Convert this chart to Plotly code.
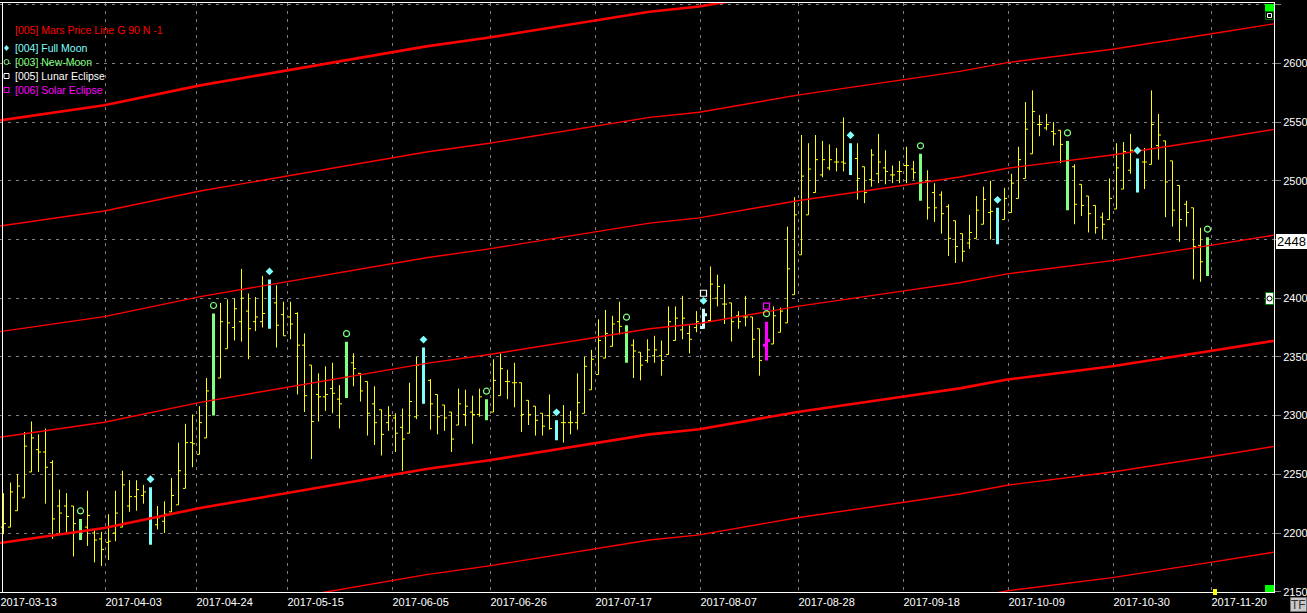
import plotly.graph_objects as go

# ---------------- data ----------------
tick_dates = ["2017-03-13", "2017-04-03", "2017-04-24", "2017-05-15", "2017-06-05",
              "2017-06-26", "2017-07-17", "2017-08-07", "2017-08-28", "2017-09-18",
              "2017-10-09", "2017-10-30", "2017-11-20"]
tick_bar = [0, 15, 28, 41, 56, 70, 85, 100, 114, 129, 144, 159, 173]

opens = [2205, 2205, 2219, 2230, 2252, 2271, 2269, 2260, 2223, 2223,
         2223, 2206, 2205, 2200, 2195, 2192, 2200, 2205, 2223, 2231,
         2232, 2233, 2207, 2210, 2218, 2224, 2238, 2277, 2267, 2281,
         2301, 2332, 2357, 2375, 2380, 2389, 2380, 2380, 2389, 2396,
         2386, 2384, 2387, 2360, 2343, 2318, 2316, 2323, 2314, 2316,
         2345, 2336, 2329, 2310, 2305, 2294, 2298, 2290, 2285, 2299,
         2311, 2330, 2318, 2309, 2303, 2292, 2301, 2303, 2301, 2304,
         2303, 2317, 2329, 2328, 2328, 2313, 2308, 2302, 2300, 2295,
         2294, 2294, 2294, 2302, 2322, 2335, 2349, 2359, 2380, 2374,
         2360, 2354, 2347, 2351, 2351, 2352, 2364, 2373, 2370, 2375,
         2375, 2381, 2400, 2395, 2396, 2385, 2384, 2384, 2374, 2360,
         2361, 2371, 2379, 2403, 2437, 2471, 2490, 2505, 2511, 2516,
         2516, 2522, 2519, 2512, 2501, 2506, 2511, 2505, 2508, 2513,
         2510, 2509, 2500, 2490, 2488, 2478, 2466, 2455, 2447, 2451,
         2463, 2473, 2473, 2467, 2473, 2485, 2502, 2523, 2548, 2545,
         2542, 2543, 2533, 2512, 2497, 2487, 2479, 2469, 2467, 2476,
         2493, 2509, 2516, 2516, 2514, 2530, 2534, 2517, 2496, 2480,
         2477, 2445, 2444]
highs = [2234, 2243, 2250, 2286, 2295, 2284, 2289, 2262, 2237, 2234,
         2223, 2212, 2236, 2203, 2201, 2216, 2236, 2253, 2245, 2245,
         2241, 2239, 2223, 2227, 2247, 2277, 2293, 2301, 2308, 2332,
         2387, 2396, 2399, 2400, 2425, 2404, 2401, 2419, 2416, 2411,
         2397, 2397, 2388, 2370, 2343, 2336, 2342, 2345, 2326, 2363,
         2353, 2336, 2329, 2325, 2305, 2308, 2302, 2306, 2328, 2350,
         2358, 2331, 2318, 2309, 2303, 2323, 2322, 2317, 2323, 2314,
         2348, 2353, 2339, 2345, 2328, 2313, 2308, 2302, 2318, 2296,
         2309, 2304, 2336, 2350, 2356, 2382, 2390, 2385, 2397, 2377,
         2365, 2354, 2365, 2368, 2364, 2393, 2393, 2402, 2377, 2389,
         2391, 2427, 2420, 2412, 2396, 2389, 2402, 2384, 2374, 2380,
         2393, 2392, 2461, 2486, 2539, 2532, 2539, 2534, 2531, 2528,
         2554, 2532, 2532, 2512, 2527, 2540, 2526, 2513, 2517, 2529,
         2517, 2523, 2509, 2498, 2491, 2480, 2466, 2455, 2471, 2487,
         2495, 2500, 2477, 2494, 2506, 2529, 2567, 2577, 2556, 2557,
         2550, 2543, 2534, 2514, 2497, 2487, 2479, 2473, 2502, 2532,
         2533, 2540, 2519, 2528, 2577, 2557, 2534, 2517, 2496, 2483,
         2477, 2460, 2452]
lows = [2199, 2205, 2219, 2230, 2252, 2252, 2225, 2195, 2200, 2200,
        2180, 2194, 2189, 2175, 2172, 2177, 2193, 2205, 2218, 2219,
        2225, 2190, 2203, 2200, 2218, 2224, 2238, 2256, 2267, 2281,
        2300, 2332, 2357, 2364, 2363, 2348, 2372, 2375, 2374, 2358,
        2368, 2365, 2318, 2303, 2263, 2295, 2304, 2302, 2289, 2315,
        2325, 2312, 2283, 2275, 2266, 2287, 2269, 2253, 2285, 2297,
        2310, 2288, 2284, 2287, 2269, 2292, 2291, 2276, 2299, 2296,
        2303, 2317, 2314, 2307, 2286, 2292, 2283, 2283, 2288, 2279,
        2277, 2284, 2288, 2302, 2322, 2335, 2349, 2359, 2369, 2345,
        2332, 2330, 2345, 2345, 2334, 2352, 2364, 2365, 2353, 2371,
        2374, 2380, 2393, 2378, 2363, 2374, 2376, 2349, 2334, 2347,
        2361, 2371, 2379, 2403, 2437, 2471, 2490, 2503, 2509, 2508,
        2508, 2505, 2484, 2481, 2495, 2498, 2497, 2498, 2498, 2498,
        2501, 2483, 2467, 2465, 2455, 2436, 2430, 2431, 2442, 2451,
        2463, 2450, 2446, 2467, 2473, 2485, 2502, 2523, 2538, 2543,
        2530, 2515, 2475, 2463, 2470, 2456, 2455, 2450, 2467, 2476,
        2493, 2506, 2490, 2493, 2514, 2518, 2469, 2461, 2448, 2461,
        2416, 2414, 2419]
closes = [2208, 2235, 2240, 2274, 2281, 2269, 2256, 2212, 2217, 2214,
          2208, 2205, 2215, 2194, 2186, 2193, 2217, 2241, 2231, 2237,
          2235, 2215, 2213, 2216, 2232, 2253, 2277, 2276, 2294, 2321,
          2364, 2380, 2379, 2391, 2400, 2374, 2384, 2387, 2396, 2377,
          2368, 2378, 2360, 2317, 2295, 2316, 2318, 2319, 2310, 2351,
          2340, 2321, 2302, 2294, 2284, 2300, 2285, 2280, 2312, 2343,
          2344, 2310, 2299, 2298, 2280, 2310, 2308, 2301, 2316, 2304,
          2330, 2340, 2329, 2328, 2301, 2301, 2296, 2291, 2289, 2289,
          2294, 2294, 2311, 2342, 2348, 2364, 2370, 2378, 2376, 2357,
          2355, 2343, 2356, 2356, 2347, 2380, 2383, 2383, 2365, 2380,
          2386, 2412, 2410, 2395, 2380, 2380, 2384, 2365, 2347, 2364,
          2385, 2389, 2425, 2471, 2504, 2510, 2518, 2518, 2518, 2516,
          2515, 2516, 2502, 2490, 2522, 2516, 2508, 2505, 2508, 2513,
          2507, 2504, 2477, 2477, 2472, 2451, 2444, 2440, 2456, 2475,
          2484, 2474, 2460, 2485, 2498, 2518, 2544, 2559, 2548, 2548,
          2540, 2531, 2494, 2480, 2479, 2472, 2460, 2463, 2485, 2511,
          2525, 2526, 2509, 2516, 2548, 2539, 2499, 2475, 2467, 2473,
          2444, 2431, 2434]

full_moon = [21, 38, 60, 79, 100, 121, 142, 162]
new_moon = [11, 30, 49, 69, 89, 109, 131, 152, 172]
lunar_eclipse = [100]
solar_eclipse = [109]

# Mars price line (read at several bars), repeated every 90 points
mars_bar = [-0.5, 14.4, 28.1, 40.4, 46.6, 60.4, 69.4, 84.4, 92.3, 99.4,
            113.4, 128.4, 136.6, 143.4, 158.4, 172.4, 181.5]
mars_price = [2191.5, 2204.3, 2221.3, 2234, 2240.5, 2254.5, 2262, 2276, 2284, 2288.4,
              2303, 2316, 2323.2, 2330.7, 2342, 2355, 2363.7]
mars_offsets = [-180, -90, 0, 90, 180, 270, 360]

y_ticks = list(range(2150, 2651, 50))
last_label = "2448"

# ---------------- style ----------------
W, H = 1307, 613
ML, MR, MT, MB = 0, 33, 3, 21
PW, PH = W - ML - MR, H - MT - MB
XR = [-0.5, 181.5]
YR = [2149.75, 2651.45]
FONT = "Liberation Sans, Arial, sans-serif"

YELLOW = "#FFFF00"
CYAN = "#80FFFF"
GREEN = "#80FF80"
PALE = "#D0FFFF"
MAGENTA = "#FF00FF"
RED = "#FF0000"


def pxx(px):
    return (px - ML) / PW


def pyy(py):
    return (H - MB - py) / PH


fig = go.Figure()

# Mars lines
for off in mars_offsets:
    thick = (off % 360 == 0)
    fig.add_trace(go.Scatter(
        x=mars_bar, y=[p + off for p in mars_price], mode="lines",
        line=dict(color=RED, width=2.6 if thick else 1.4),
        hoverinfo="skip", showlegend=False))

# OHLC bars grouped by colour
n = len(opens)
colour = [YELLOW] * n
for j in full_moon:
    colour[j] = CYAN
for j in new_moon:
    colour[j] = GREEN
for j in lunar_eclipse:
    colour[j] = PALE
for j in solar_eclipse:
    colour[j] = MAGENTA


def tickw(idx, desired):
    s = sorted(idx)
    md = min([b - a for a, b in zip(s, s[1:])] or [1])
    return min(0.5, desired / md)


for c in [YELLOW, CYAN, GREEN, PALE, MAGENTA]:
    idx = [j for j in range(n) if colour[j] == c]
    if not idx:
        continue
    w = 1 if c == YELLOW else 3
    desired = 0.36 if c == YELLOW else 0.55
    fig.add_trace(go.Ohlc(
        x=idx,
        open=[opens[j] for j in idx], high=[highs[j] for j in idx],
        low=[lows[j] for j in idx], close=[closes[j] for j in idx],
        increasing=dict(line=dict(color=c, width=w)),
        decreasing=dict(line=dict(color=c, width=w)),
        line=dict(width=w), tickwidth=tickw(idx, desired),
        hoverinfo="skip", showlegend=False))

# event markers above bars
gap1, gap2 = 6.8, 13.2
fig.add_trace(go.Scatter(
    x=full_moon, y=[highs[j] + gap1 for j in full_moon], mode="markers",
    marker=dict(symbol="diamond", size=6, color=CYAN, line=dict(width=0)),
    hoverinfo="skip", showlegend=False))
fig.add_trace(go.Scatter(
    x=new_moon, y=[highs[j] + gap1 for j in new_moon], mode="markers",
    marker=dict(symbol="circle-open", size=6, color=GREEN, line=dict(width=1.2)),
    hoverinfo="skip", showlegend=False))
fig.add_trace(go.Scatter(
    x=lunar_eclipse, y=[highs[j] + gap2 for j in lunar_eclipse], mode="markers",
    marker=dict(symbol="square-open", size=6, color="#FFFFFF", line=dict(width=1.2)),
    hoverinfo="skip", showlegend=False))
fig.add_trace(go.Scatter(
    x=solar_eclipse, y=[highs[j] + gap2 for j in solar_eclipse], mode="markers",
    marker=dict(symbol="square-open", size=6, color=MAGENTA, line=dict(width=1.2)),
    hoverinfo="skip", showlegend=False))

# ---------------- decorations ----------------
shapes = []
annotations = []

# left frame line
shapes.append(dict(type="line", xref="paper", yref="paper", x0=pxx(2.5), x1=pxx(2.5),
                   y0=0, y1=1, line=dict(color="#FFFFFF", width=1)))

# legend
legend_items = [
    ("[005] Mars Price Line G 90 N -1", RED, 30, None),
    ("[004] Full Moon", CYAN, 48, "diamond"),
    ("[003] New-Moon", GREEN, 62, "circle"),
    ("[005] Lunar Eclipse", "#FFFFFF", 76, "square"),
    ("[006] Solar Eclipse", MAGENTA, 90, "square"),
]
for text, col, py, sym in legend_items:
    annotations.append(dict(text=text, xref="paper", yref="paper", x=pxx(13), y=pyy(py),
                            xanchor="left", yanchor="middle", showarrow=False,
                            font=dict(family=FONT, size=10.5, color=col)))
    cx, r = 6.5, 2.5
    if sym == "diamond":
        path = "M {},{} L {},{} L {},{} L {},{} Z".format(
            pxx(cx), pyy(py - 3), pxx(cx + 2.5), pyy(py), pxx(cx), pyy(py + 3), pxx(cx - 2.5), pyy(py))
        shapes.append(dict(type="path", xref="paper", yref="paper", path=path,
                           fillcolor=col, line=dict(width=0)))
    elif sym == "circle":
        shapes.append(dict(type="circle", xref="paper", yref="paper",
                           x0=pxx(cx - r), x1=pxx(cx + r), y0=pyy(py + r), y1=pyy(py - r),
                           line=dict(color=col, width=1)))
    elif sym == "square":
        shapes.append(dict(type="rect", xref="paper", yref="paper",
                           x0=pxx(cx - r), x1=pxx(cx + r), y0=pyy(py + r), y1=pyy(py - r),
                           line=dict(color=col, width=1)))


def rect(x0, y0, x1, y1, fill=None, lc=None, lw=1):
    d = dict(type="rect", xref="paper", yref="paper", x0=pxx(x0), x1=pxx(x1),
             y0=pyy(y1), y1=pyy(y0), layer="above",
             line=dict(width=lw if lc else 0, color=lc or "rgba(0,0,0,0)"))
    if fill:
        d["fillcolor"] = fill
    shapes.append(d)


# right-side widgets
rect(1265, 4, 1274, 11, fill="#00FF00")
rect(1265.5, 11.5, 1273.5, 19.5, fill="#000000", lc="#008000")
rect(1267.5, 13.5, 1271.5, 17.5, lc="#FFFFFF")
rect(1265.5, 292.5, 1273.5, 304.5, fill="#FFFFFF", lc="#008000")
shapes.append(dict(type="circle", xref="paper", yref="paper", layer="above",
                   x0=pxx(1267), x1=pxx(1272), y0=pyy(301), y1=pyy(296),
                   line=dict(color="#000000", width=1)))
rect(1265, 585, 1274, 592, fill="#00FF00")
rect(1213, 589, 1217, 595, fill="#FFFF00")
rect(1276, 234, 1307, 249, fill="#FFFFFF")
annotations.append(dict(text=last_label, xref="paper", yref="paper", x=pxx(1291), y=pyy(241.5),
                        xanchor="center", yanchor="middle", showarrow=False,
                        font=dict(family=FONT, size=13, color="#000000")))
rect(1290.5, 597.5, 1306.5, 611.5, fill="#C8C8C8", lc="#707070")
annotations.append(dict(text="TF", xref="paper", yref="paper", x=pxx(1298.5), y=pyy(604.5),
                        xanchor="center", yanchor="middle", showarrow=False,
                        font=dict(family=FONT, size=12, color="#303030")))

fig.update_layout(
    width=W, height=H,
    margin=dict(l=ML, r=MR, t=MT, b=MB, pad=0, autoexpand=False),
    paper_bgcolor="#000000", plot_bgcolor="#000000",
    showlegend=False,
    shapes=shapes, annotations=annotations,
    xaxis=dict(range=XR, rangeslider=dict(visible=False), automargin=False,
               tickvals=[b - 0.5 for b in tick_bar], ticktext=tick_dates,
               ticklabelposition="outside right",
               showgrid=True, gridcolor="#808080", griddash="3px,5px", gridwidth=1,
               showline=True, linecolor="#FFFFFF", linewidth=1, mirror=True,
               ticks="", zeroline=False,
               tickfont=dict(family=FONT, size=11, color="#FFFFFF")),
    yaxis=dict(range=YR, side="right", automargin=False,
               tickvals=y_ticks,
               ticktext=["" if str(v) == "2450" else str(v) for v in y_ticks],
               showgrid=True, gridcolor="#808080", griddash="3px,5px", gridwidth=1,
               showline=True, linecolor="#FFFFFF", linewidth=1,
               ticks="outside", ticklen=6, tickcolor="#808080", tickwidth=1,
               zeroline=False,
               tickfont=dict(family=FONT, size=11, color="#FFFFFF")),
)

fig.write_html("out.html", config={"displayModeBar": False},
               post_script="document.body.style.margin='0';document.body.style.overflow='hidden';")
